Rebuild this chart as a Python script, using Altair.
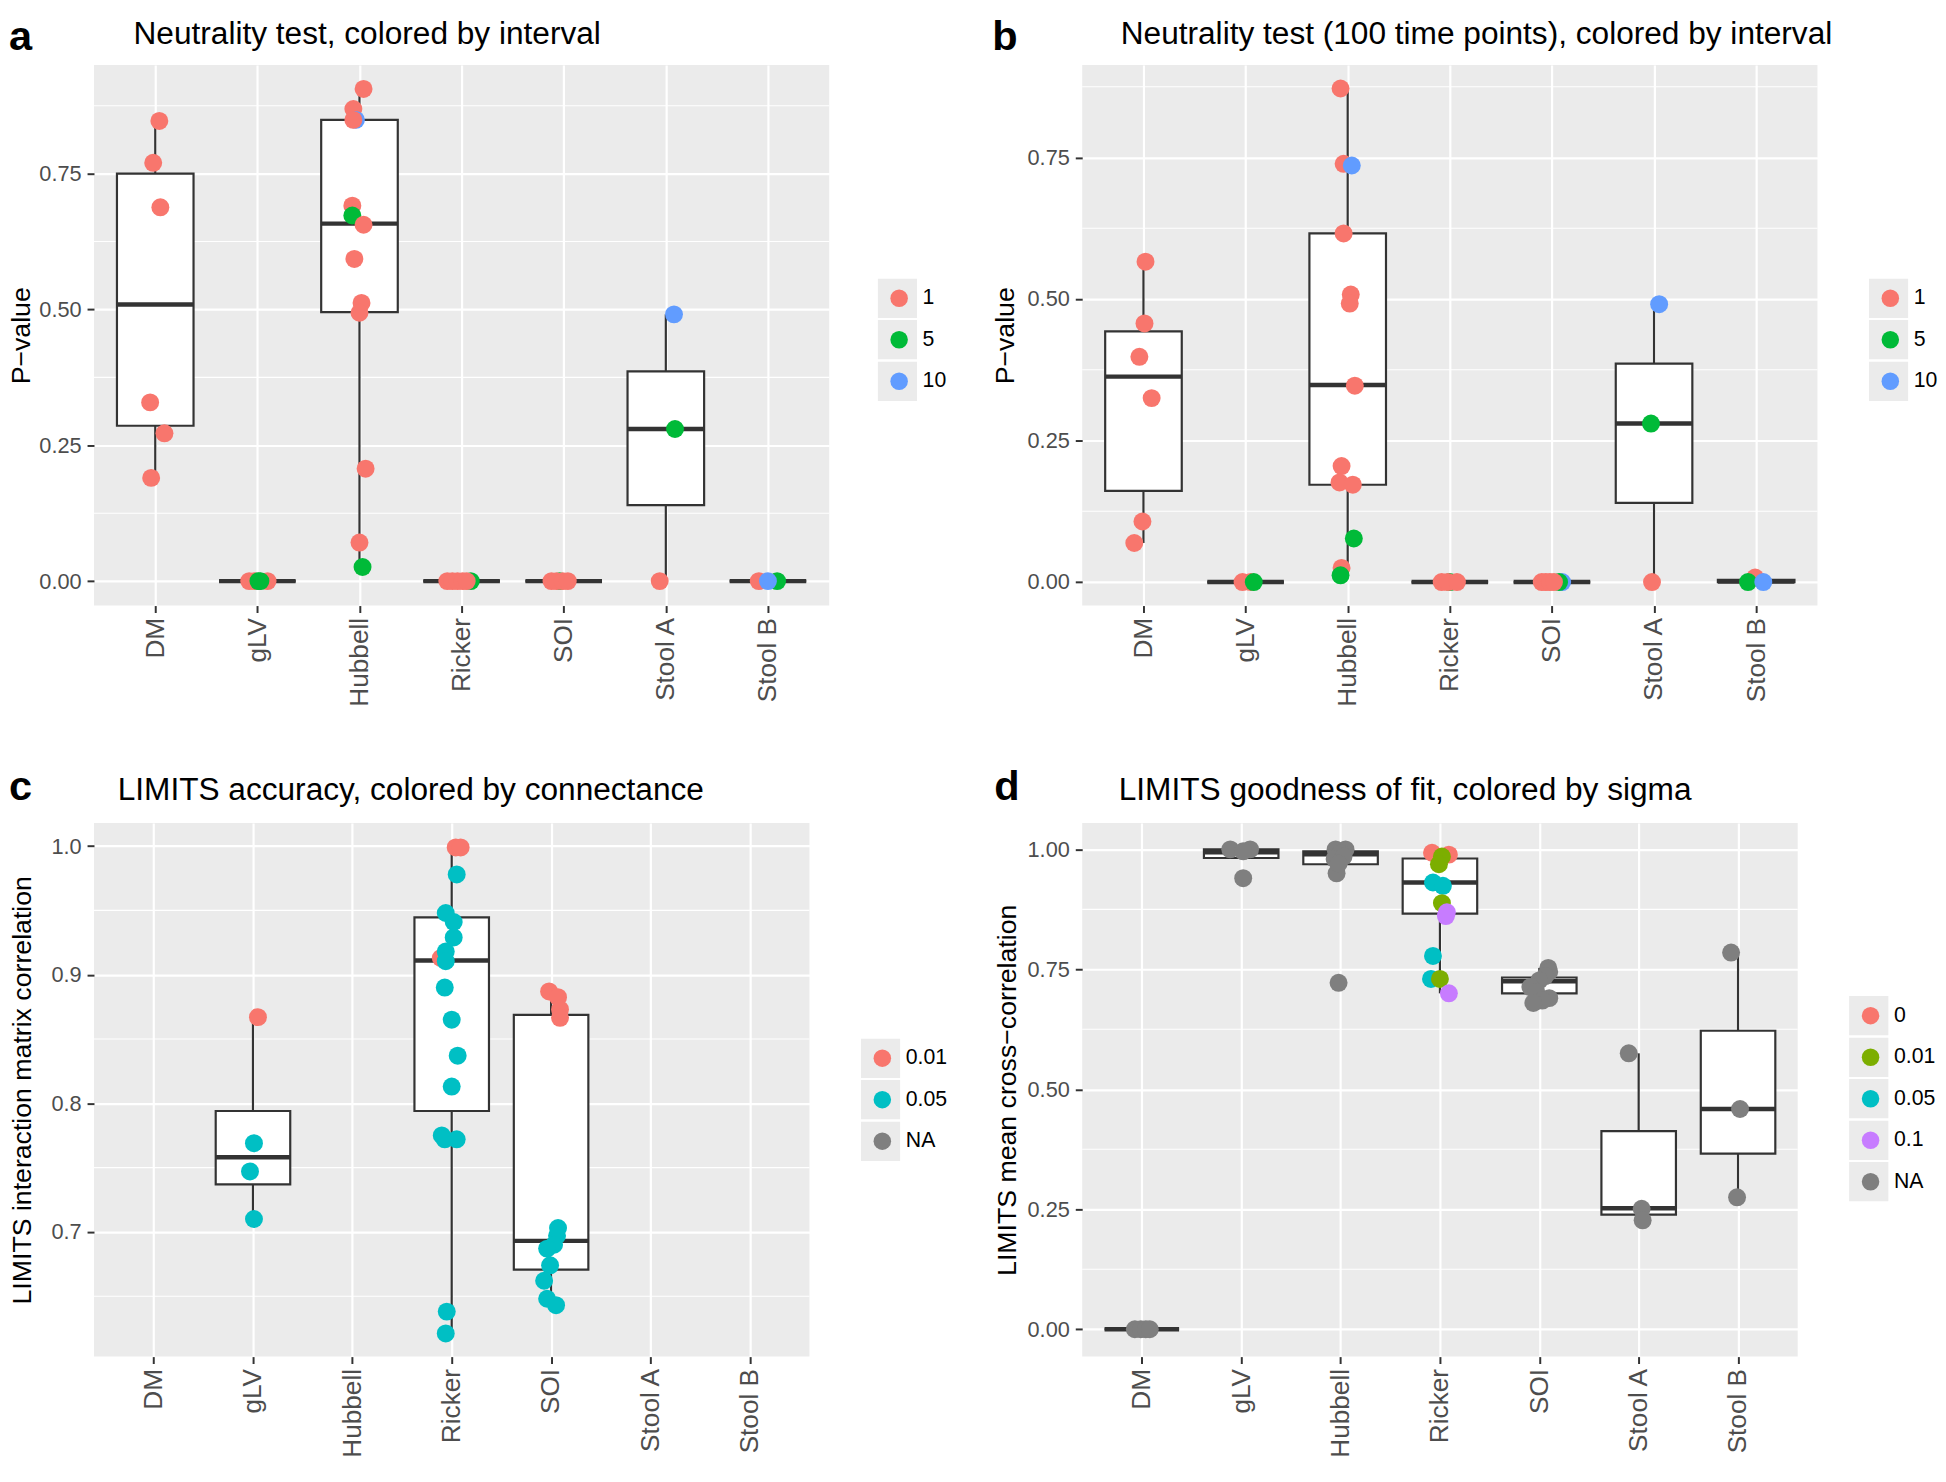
import json
import altair as alt
import pandas as pd

FONT = "Liberation Sans"
CATS = ["DM", "gLV", "Hubbell", "Ricker", "SOI", "Stool A", "Stool B"]

# ---------------- panel a : neutrality test ----------------
A_MODEL = (["DM"] * 6 + ["gLV"] * 5 + ["Hubbell"] * 13 + ["Ricker"] * 6
           + ["SOI"] * 5 + ["Stool A"] * 3 + ["Stool B"] * 3)
A_PVAL = [0.847, 0.770, 0.688, 0.329, 0.272, 0.190,
          0, 0, 0, 0, 0,
          0.906, 0.869, 0.849, 0.849, 0.691, 0.673, 0.656, 0.593, 0.512, 0.494, 0.207, 0.071, 0.026,
          0, 0, 0, 0, 0, 0,
          0, 0, 0, 0, 0,
          0, 0.280, 0.491,
          0, 0, 0]
A_INTERVAL = (["1"] * 6 + ["1", "1", "1", "5", "5"]
              + ["1", "1", "10", "1", "1", "5", "1", "1", "1", "1", "1", "1", "5"]
              + ["5", "1", "1", "1", "1", "1"] + ["5", "1", "1", "1", "1"]
              + ["1", "5", "10"] + ["1", "5", "10"])
A_JITTER = [0.04, -0.02, 0.05, -0.05, 0.09, -0.04,
            -0.08, 0.10, -0.03, 0.03, 0.01,
            0.04, -0.06, -0.035, -0.06, -0.07, -0.07, 0.04, -0.05, 0.02, 0.0, 0.06, 0.0, 0.03,
            0.09, -0.14, -0.09, -0.04, 0.01, 0.05,
            -0.04, -0.12, -0.07, -0.01, 0.04,
            -0.06, 0.09, 0.08,
            -0.09, 0.09, 0.0]
A_Q1 = [0.286, 0, 0.495, 0, 0, 0.140, 0]
A_MED = [0.509, 0, 0.658, 0, 0, 0.280, 0]
A_Q3 = [0.750, 0, 0.849, 0, 0, 0.386, 0]
A_LO = [0.190, 0, 0.026, 0, 0, 0, 0]
A_HI = [0.847, 0, 0.906, 0, 0, 0.491, 0]

# ---------------- panel b : neutrality test, 100 time points ----------------
B_MODEL = (["DM"] * 6 + ["gLV"] * 3 + ["Hubbell"] * 13 + ["Ricker"] * 4
           + ["SOI"] * 6 + ["Stool A"] * 3 + ["Stool B"] * 3)
B_PVAL = [0.566, 0.457, 0.398, 0.325, 0.107, 0.069,
          0, 0, 0,
          0.872, 0.739, 0.736, 0.616, 0.508, 0.492, 0.347, 0.205, 0.176, 0.172, 0.077, 0.025, 0.012,
          0, 0, 0, 0,
          0, 0, 0, 0, 0, 0,
          0, 0.280, 0.491,
          0.008, 0, 0]
B_INTERVAL = (["1"] * 6 + ["1", "1", "5"]
              + ["1", "1", "10", "1", "1", "1", "1", "1", "1", "1", "5", "1", "5"]
              + ["5", "1", "1", "1"] + ["10", "5", "1", "1", "1", "1"]
              + ["1", "5", "10"] + ["1", "5", "10"])
B_JITTER = [0.02, 0.01, -0.04, 0.08, -0.01, -0.09,
            -0.03, 0.05, 0.08,
            -0.07, -0.04, 0.04, -0.04, 0.03, 0.02, 0.07, -0.06, -0.08, 0.05, 0.06, -0.06, -0.07,
            0.0, -0.08, -0.02, 0.07,
            0.10, 0.07, -0.10, -0.06, -0.02, 0.02,
            -0.02, -0.03, 0.05,
            -0.01, -0.08, 0.07]
B_Q1 = [0.161, 0, 0.172, 0, 0, 0.140, 0]
B_MED = [0.363, 0, 0.348, 0, 0, 0.280, 0.001]
B_Q3 = [0.443, 0, 0.616, 0, 0, 0.386, 0.004]
B_LO = [0.069, 0, 0.012, 0, 0, 0, 0]
B_HI = [0.566, 0, 0.872, 0, 0, 0.491, 0.008]

# ---------------- panel c : LIMITS accuracy ----------------
C_MODEL = ["gLV"] * 4 + ["Ricker"] * 18 + ["SOI"] * 12
C_CORR = [0.867, 0.769, 0.747, 0.710,
          0.999, 0.999, 0.978, 0.948, 0.941, 0.929, 0.913, 0.918, 0.9105, 0.890, 0.865, 0.837,
          0.813, 0.775, 0.772, 0.772, 0.638, 0.621,
          0.887, 0.8825, 0.873, 0.8665, 0.703, 0.697, 0.690, 0.687, 0.674, 0.662, 0.648, 0.643]
C_CONN = (["0.01", "0.05", "0.05", "0.05"]
          + ["0.01", "0.01", "0.05", "0.05", "0.05", "0.05", "0.01", "0.05", "0.05", "0.05",
             "0.05", "0.05", "0.05", "0.05", "0.05", "0.05", "0.05", "0.05"]
          + ["0.01"] * 4 + ["0.05"] * 8)
C_JITTER = [0.05, 0.01, -0.03, 0.01,
            0.04, 0.09, 0.05, -0.06, 0.02, 0.02, -0.11, -0.06, -0.06, -0.07, 0.0, 0.06,
            0.0, -0.10, -0.07, 0.05, -0.05, -0.06,
            -0.02, 0.07, 0.09, 0.09, 0.07, 0.06, 0.03, -0.04, -0.01, -0.07, -0.04, 0.05]
C_BOX_MODEL = ["gLV", "Ricker", "SOI"]
C_Q1 = [0.737, 0.794, 0.6706]
C_MED = [0.758, 0.911, 0.693]
C_Q3 = [0.794, 0.9446, 0.8687]
C_LO = [0.710, 0.621, 0.643]
C_HI = [0.867, 0.999, 0.887]

# ---------------- panel d : LIMITS goodness of fit ----------------
D_MODEL = (["DM"] * 4 + ["gLV"] * 4 + ["Hubbell"] * 8 + ["Ricker"] * 13
           + ["SOI"] * 9 + ["Stool A"] * 3 + ["Stool B"] * 3)
D_CORR = [0, 0, 0, 0,
          1.0, 1.0, 0.996, 0.94,
          1.0, 1.0, 0.992, 0.98, 0.985, 0.95, 0.97, 0.722,
          0.993, 0.989, 0.985, 0.969, 0.931, 0.924, 0.888, 0.869, 0.861, 0.778, 0.730, 0.730, 0.700,
          0.753, 0.745, 0.736, 0.727, 0.713, 0.703, 0.690, 0.685, 0.680,
          0.575, 0.251, 0.227,
          0.785, 0.459, 0.275]
D_SIGMA = (["NA"] * 16
           + ["0", "0", "0.01", "0.01", "0.05", "0.05", "0.01", "0.1", "0.1", "0.05", "0.05", "0.01", "0.1"]
           + ["NA"] * 15)
D_JITTER = [-0.07, -0.01, 0.04, 0.08,
            -0.11, 0.09, 0.02, 0.02,
            -0.05, 0.05, 0.0, -0.06, 0.03, -0.04, -0.02, -0.02,
            -0.08, 0.09, 0.02, -0.01, -0.07, 0.03, 0.02, 0.07, 0.06, -0.07, -0.09, 0.0, 0.09,
            0.09, 0.10, 0.06, 0.0, -0.09, -0.03, 0.10, 0.03, -0.06,
            -0.10, 0.03, 0.04,
            -0.07, 0.02, -0.01]
D_Q1 = [0, 0.982, 0.969, 0.866, 0.700, 0.239, 0.366]
D_MED = [0, 0.994, 0.990, 0.931, 0.725, 0.252, 0.459]
D_Q3 = [0, 1.0, 0.996, 0.981, 0.733, 0.413, 0.622]
D_LO = [0, 0.982, 0.95, 0.70, 0.68, 0.227, 0.275]
D_HI = [0, 1.0, 1.0, 0.993, 0.753, 0.575, 0.785]

# axis breaks
P_MAJOR = [0, 0.25, 0.5, 0.75]
P_MINOR = [0.125, 0.375, 0.625, 0.875]
C_MAJOR = [0.7, 0.8, 0.9, 1.0]
C_MINOR = [0.65, 0.75, 0.85, 0.95]
D_MAJOR = [0, 0.25, 0.5, 0.75, 1.0]
D_MINOR = [0.125, 0.375, 0.625, 0.875]

INTERVALS = ["1", "5", "10"]
INTERVAL_COLORS = ["#F8766D", "#00BA38", "#619CFF"]
CONNS = ["0.01", "0.05", "NA"]
CONN_COLORS = ["#F8766D", "#00BFC4", "#7F7F7F"]
SIGMAS = ["0", "0.01", "0.05", "0.1", "NA"]
SIGMA_COLORS = ["#F8766D", "#7CAE00", "#00BFC4", "#C77CFF", "#7F7F7F"]

LABEL_EXPR = json.dumps(CATS).replace('"', "'") + "[datum.value - 1]"


def points_df(models, vals, groups, jit):
    return pd.DataFrame({"m": models, "v": vals, "g": groups, "jit": jit,
                         "idx": [CATS.index(m) + 1 for m in models]})


def box_df(models, q1, med, q3, lo, hi):
    return pd.DataFrame({"m": models, "q1": q1, "med": med, "q3": q3, "lo": lo, "hi": hi,
                         "idx": [CATS.index(m) + 1 for m in models]})


def panel(pts, box, ydom, ymajor, yminor, yfmt, ytitle, title, letter, cdom, crange,
          w, h, lx, ly, letter_x, letter_y, title_x, title_y, ytp):
    xs = alt.Scale(domain=[0.4, 7.6], nice=False, zero=False)
    ys = alt.Scale(domain=ydom, nice=False, zero=False)
    xax = alt.Axis(values=list(range(1, 8)), labelExpr=LABEL_EXPR, title=None,
                   grid=True, gridColor="white", gridWidth=2.2, domain=False,
                   ticks=True, tickSize=7, tickWidth=2, tickColor="#333333",
                   labelAngle=270, labelAlign="right", labelBaseline="middle",
                   labelFont=FONT, labelFontSize=26.5, labelColor="#4D4D4D",
                   labelPadding=5, labelFlush=False, labelOverlap=False)
    yax = alt.Axis(values=ymajor, format=yfmt, title=ytitle,
                   grid=True, gridColor="white", gridWidth=2.2, domain=False,
                   ticks=True, tickSize=7, tickWidth=2, tickColor="#333333",
                   labelFont=FONT, labelFontSize=22, labelColor="#4D4D4D",
                   labelPadding=6, labelFlush=False, labelOverlap=False,
                   titleFont=FONT, titleFontSize=27, titleFontWeight="normal",
                   titleColor="black", titlePadding=ytp)

    def X(f):
        return alt.X(f, scale=xs, axis=xax)

    def Y(f):
        return alt.Y(f, scale=ys, axis=yax)

    # grey legend-key tiles: a background-coloured point layer carries a second (square)
    # shape legend without labels; its domain gets a trailing blank so it is not merged
    # with the colour legend.
    key_dom = [c + " " for c in cdom]
    keys = alt.Chart(pts).transform_calculate(
        g2="datum.g + ' '", xj="datum.idx + datum.jit").mark_point(
        filled=True, color="#EBEBEB", size=4, opacity=1).encode(
        x=X("xj:Q"), y=Y("v:Q"),
        shape=alt.Shape("g2:N", scale=alt.Scale(domain=key_dom, range=["square"] * len(cdom)),
                        legend=alt.Legend(orient="none", legendX=lx, legendY=ly, title=None,
                                          symbolType="square", symbolSize=1600,
                                          symbolFillColor="#EBEBEB", symbolStrokeWidth=0,
                                          symbolOpacity=1, labelExpr="''",
                                          labelFont=FONT, labelFontSize=21.5, labelOffset=0,
                                          clipHeight=40, rowPadding=2, padding=0, zindex=0)))
    minor = alt.Chart(pd.DataFrame({"mn": yminor})).mark_rule(
        color="white", strokeWidth=1.1).encode(y=Y("mn:Q"))
    whisk = alt.Chart(box).mark_rule(color="#333333", strokeWidth=2.2).encode(
        x=X("idx:Q"), y=Y("lo:Q"), y2="hi:Q")
    rect = alt.Chart(box).transform_calculate(
        x1="datum.idx - 0.375", x2="datum.idx + 0.375").mark_rect(
        fill="white", stroke="#333333", strokeWidth=2.2).encode(
        x=X("x1:Q"), x2="x2:Q", y=Y("q1:Q"), y2="q3:Q")
    med = alt.Chart(box).transform_calculate(
        x1="datum.idx - 0.375", x2="datum.idx + 0.375").mark_rule(
        color="#333333", strokeWidth=4.5).encode(
        x=X("x1:Q"), x2="x2:Q", y=Y("med:Q"))
    dots = alt.Chart(pts).transform_calculate(xj="datum.idx + datum.jit").mark_circle(
        size=330, opacity=1).encode(
        x=X("xj:Q"), y=Y("v:Q"),
        color=alt.Color("g:N", scale=alt.Scale(domain=cdom, range=crange),
                        legend=alt.Legend(orient="none", legendX=lx + 11, legendY=ly,
                                          title=None, symbolType="circle", symbolSize=314,
                                          symbolStrokeWidth=0, symbolOpacity=1,
                                          labelFont=FONT, labelFontSize=21.5, labelColor="black",
                                          labelOffset=13, clipHeight=40, rowPadding=2,
                                          padding=0, zindex=1)))
    tag = alt.Chart(pd.DataFrame({"t": [letter]})).mark_text(
        align="left", baseline="alphabetic", font=FONT, fontSize=42, fontWeight="bold",
        color="black").encode(text="t:N", x=alt.value(letter_x), y=alt.value(letter_y))
    head = alt.Chart(pd.DataFrame({"t": [title]})).mark_text(
        align="left", baseline="alphabetic", font=FONT, fontSize=32, fontWeight="normal",
        color="black").encode(text="t:N", x=alt.value(title_x), y=alt.value(title_y))

    return alt.layer(keys, minor, whisk, rect, med, dots, tag, head).properties(
        width=w, height=h)


pa = panel(points_df(A_MODEL, A_PVAL, A_INTERVAL, A_JITTER),
           box_df(CATS, A_Q1, A_MED, A_Q3, A_LO, A_HI),
           [-0.045, 0.95], P_MAJOR, P_MINOR, ".2f", "P\u2212value",
           "Neutrality test, colored by interval", "a", INTERVALS, INTERVAL_COLORS,
           744, 547, 793, 216, -86, -15, 40, -21, 3)
pb = panel(points_df(B_MODEL, B_PVAL, B_INTERVAL, B_JITTER),
           box_df(CATS, B_Q1, B_MED, B_Q3, B_LO, B_HI),
           [-0.0415, 0.9135], P_MAJOR, P_MINOR, ".2f", "P\u2212value",
           "Neutrality test (100 time points), colored by interval", "b",
           INTERVALS, INTERVAL_COLORS,
           744, 547, 796, 216, -91, -15, 39, -21, 8)
pc = panel(points_df(C_MODEL, C_CORR, C_CONN, C_JITTER),
           box_df(C_BOX_MODEL, C_Q1, C_MED, C_Q3, C_LO, C_HI),
           [0.603, 1.018], C_MAJOR, C_MINOR, ".1f", "LIMITS interaction matrix correlation",
           "LIMITS accuracy, colored by connectance", "c", CONNS, CONN_COLORS,
           724, 540, 776, 218, -86, -23, 24, -23, 15)
pd_ = panel(points_df(D_MODEL, D_CORR, D_SIGMA, D_JITTER),
            box_df(CATS, D_Q1, D_MED, D_Q3, D_LO, D_HI),
            [-0.057, 1.055], D_MAJOR, D_MINOR, ".2f", "LIMITS mean cross\u2212correlation",
            "LIMITS goodness of fit, colored by sigma", "d", SIGMAS, SIGMA_COLORS,
            724, 540, 776, 175, -89, -23, 37, -23, 6)

chart = alt.concat(pa, pb, pc, pd_, columns=2, bounds="full",
                   spacing=alt.RowColnumber(row=61, column=44)).resolve_scale(
    color="independent", shape="independent", x="independent", y="independent").resolve_legend(
    color="independent", shape="independent").properties(padding=0).configure_view(
    fill="#EBEBEB", stroke=None)

chart.save("out.html", embed_options={"renderer": "svg", "actions": False})
